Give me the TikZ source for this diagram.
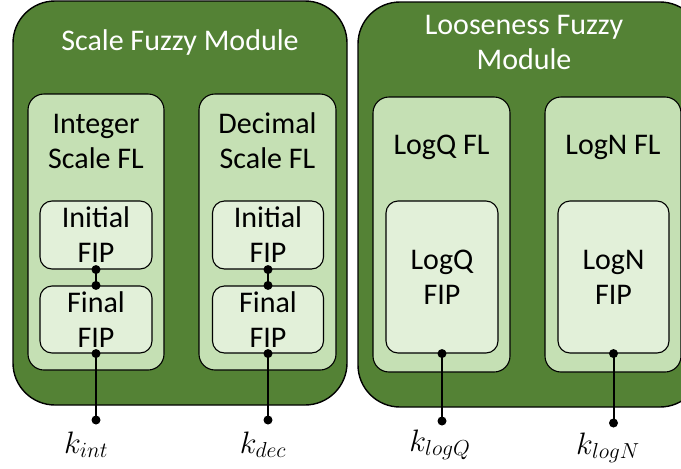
\RequirePackage{fix-cm}
\documentclass[tikz,border=0pt]{standalone}
\usepackage{fontspec}
\setmainfont{Carlito}
\definecolor{modgreen}{HTML}{548235}
\definecolor{flgreen}{HTML}{C5E0B4}
\definecolor{fipgreen}{HTML}{E2F0D9}
\tikzset{
  module/.style={draw=black, line width=1.4pt, fill=modgreen, rounded corners=42pt, inner sep=0pt},
  flbox/.style={draw=black, line width=1.1pt, fill=flgreen, rounded corners=16pt, inner sep=0pt},
  fipbox/.style={draw=black, line width=1.1pt, fill=fipgreen, rounded corners=12pt, inner sep=0pt,
    font=\fontsize{30}{35}\selectfont, align=center},
  title/.style={font=\fontsize{30}{35}\selectfont, align=center, inner sep=0pt},
  wire/.style={line width=2pt},
  pin/.style={circle, fill=black, inner sep=0pt, minimum size=9pt},
  klabel/.style={font=\fontsize{31}{37}\selectfont, inner sep=0pt}
}
\begin{document}
\begin{tikzpicture}[x=1pt,y=-1pt]
\useasboundingbox (0,0) rectangle (681,469);
\clip (0,0) rectangle (681,469);

% Scale fuzzy module
\node[module, minimum width=334pt, minimum height=404pt] (scale) at (180,203) {};
\node[title, text=white] (scaleT) at (180,42.5) {Scale Fuzzy Module};

\node[flbox, minimum width=136pt, minimum height=276pt] (intfl) at (96,232) {};
\node[title] (intflT) at (96,141) {Integer\\Scale FL};
\node[fipbox, minimum width=112pt, minimum height=68pt] (intini) at (96,235) {Initial\\FIP};
\node[fipbox, minimum width=112pt, minimum height=67pt] (intfin) at (96,319.5) {Final\\FIP};

\node[flbox, minimum width=137pt, minimum height=276pt] (decfl) at (267.5,232) {};
\node[title] (decflT) at (267.5,141) {Decimal\\Scale FL};
\node[fipbox, minimum width=111pt, minimum height=68pt] (decini) at (268,235) {Initial\\FIP};
\node[fipbox, minimum width=111pt, minimum height=67pt] (decfin) at (268,319.5) {Final\\FIP};

% Looseness fuzzy module
\node[module, minimum width=344pt, minimum height=405pt] (loose) at (530,204.5) {};
\node[title, text=white] (looseT) at (524,42) {Looseness Fuzzy\\Module};

\node[flbox, minimum width=137pt, minimum height=275pt] (logqfl) at (441.5,234.5) {};
\node[title] (logqflT) at (441.5,147) {LogQ FL};
\node[fipbox, minimum width=112pt, minimum height=152pt] (logqfip) at (442,277) {LogQ\\FIP};

\node[flbox, minimum width=136pt, minimum height=275pt] (lognfl) at (613,234.5) {};
\node[title] (lognflT) at (613,147) {LogN FL};
\node[fipbox, minimum width=111pt, minimum height=152pt] (lognfip) at (613.5,277) {LogN\\FIP};

% Links between the two stages
\draw[wire] (intini.south) -- (intfin.north);
\node[pin] at (intini.south) {};
\node[pin] at (intfin.north) {};
\draw[wire] (decini.south) -- (decfin.north);
\node[pin] at (decini.south) {};
\node[pin] at (decfin.north) {};

% Outputs
\coordinate (kint) at (96,420);
\coordinate (kdec) at (268,420);
\coordinate (klogq) at (442,421);
\coordinate (klogn) at (613.5,423);

\draw[wire] (intfin.south) -- (kint);
\draw[wire] (decfin.south) -- (kdec);
\draw[wire] (logqfip.south) -- (klogq);
\draw[wire] (lognfip.south) -- (klogn);
\foreach \p in {intfin.south, decfin.south, logqfip.south, lognfip.south, kint, kdec, klogq, klogn}
  \node[pin] at (\p) {};

\node[klabel, anchor=base] (lint) at (86,453) {$k_{int}$};
\node[klabel, anchor=base] (ldec) at (263,453) {$k_{dec}$};
\node[klabel, anchor=base] (llogq) at (440,451) {$k_{logQ}$};
\node[klabel, anchor=base] (llogn) at (608,454) {$k_{logN}$};
\end{tikzpicture}
\end{document}
